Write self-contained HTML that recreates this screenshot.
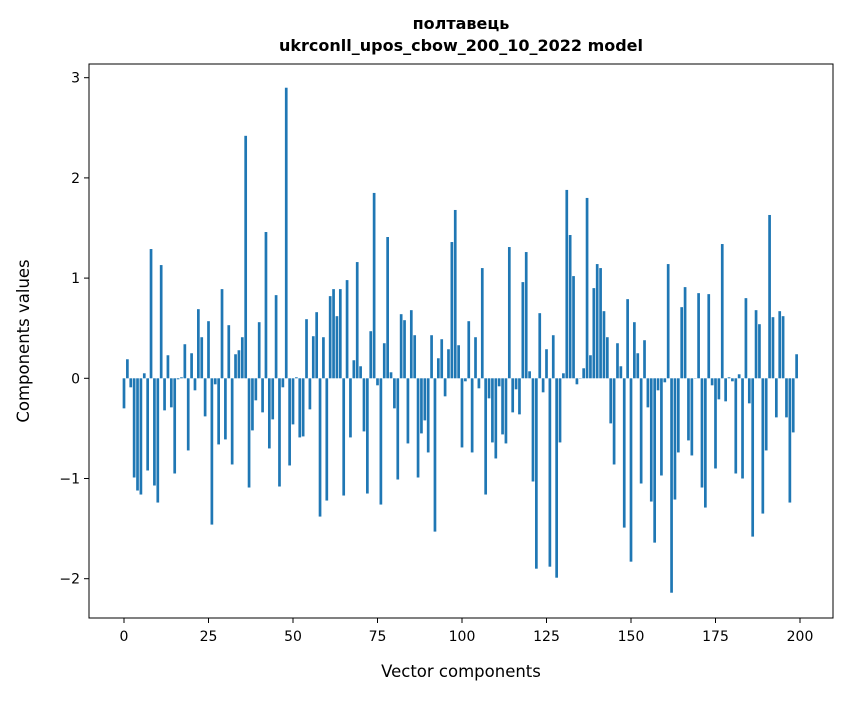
<!DOCTYPE html>
<html><head><meta charset="utf-8">
<style>
html,body{margin:0;padding:0;background:#fff;}
svg text{font-family:"DejaVu Sans","Liberation Sans",sans-serif;fill:#000;}
</style></head>
<body>
<svg id="chart" width="847" height="696" viewBox="0 0 847 696" xmlns="http://www.w3.org/2000/svg">
<rect x="0" y="0" width="847" height="696" fill="#fff"/>
<text x="461" y="29" text-anchor="middle" font-size="16" font-weight="bold">полтавець</text>
<text x="461" y="51" text-anchor="middle" font-size="16" font-weight="bold">ukrconll_upos_cbow_200_10_2022 model</text>
<g id="bars"></g>
<g id="xticks"></g>
<g id="yticks"></g>
<rect x="89" y="64" width="744" height="554" fill="none" stroke="#000" stroke-width="1"/>
<text x="461" y="677" text-anchor="middle" font-size="16.5">Vector components</text>
<text x="0" y="0" transform="translate(29,341) rotate(-90)" text-anchor="middle" font-size="16.5">Components values</text>
</svg>
<script>
const values = [
-0.30,0.19,-0.09,-0.99,-1.12,-1.16,0.05,-0.92,1.29,-1.07,
-1.24,1.13,-0.32,0.23,-0.29,-0.95,-0.01,0.01,0.34,-0.72,
0.25,-0.12,0.69,0.41,-0.38,0.57,-1.46,-0.06,-0.66,0.89,
-0.61,0.53,-0.86,0.24,0.28,0.41,2.42,-1.09,-0.52,-0.22,
0.56,-0.34,1.46,-0.70,-0.41,0.83,-1.08,-0.09,2.90,-0.87,
-0.46,0.01,-0.59,-0.58,0.59,-0.31,0.42,0.66,-1.38,0.41,
-1.22,0.82,0.89,0.62,0.89,-1.17,0.98,-0.59,0.18,1.16,
0.12,-0.53,-1.15,0.47,1.85,-0.07,-1.26,0.35,1.41,0.06,
-0.30,-1.01,0.64,0.58,-0.65,0.68,0.43,-0.99,-0.55,-0.42,
-0.74,0.43,-1.53,0.20,0.39,-0.18,0.29,1.36,1.68,0.33,
-0.69,-0.03,0.57,-0.74,0.41,-0.10,1.10,-1.16,-0.20,-0.64,
-0.80,-0.08,-0.56,-0.65,1.31,-0.34,-0.11,-0.36,0.96,1.26,
0.07,-1.03,-1.90,0.65,-0.14,0.29,-1.88,0.43,-1.99,-0.64,
0.05,1.88,1.43,1.02,-0.06,0.00,0.10,1.80,0.23,0.90,
1.14,1.10,0.67,0.41,-0.45,-0.86,0.35,0.12,-1.49,0.79,
-1.83,0.56,0.25,-1.05,0.38,-0.29,-1.23,-1.64,-0.12,-0.97,
-0.04,1.14,-2.14,-1.21,-0.74,0.71,0.91,-0.62,-0.77,0.00,
0.85,-1.09,-1.29,0.84,-0.07,-0.90,-0.21,1.34,-0.23,0.01,
-0.03,-0.95,0.04,-1.00,0.80,-0.25,-1.58,0.68,0.54,-1.35,
-0.72,1.63,0.61,-0.39,0.67,0.62,-0.39,-1.24,-0.54,0.24
];
const xTicks = [0,25,50,75,100,125,150,175,200];
const yTicks = [-2,-1,0,1,2,3];
const yTickLabels = ["\u22122","\u22121","0","1","2","3"];

const NS = "http://www.w3.org/2000/svg";
function xScale(v){ return 124 + v*3.38; }
function yScale(v){ return 378.3 - v*100.2; }

const gb = document.getElementById('bars');
values.forEach(function(v,i){
  const r = document.createElementNS(NS,'rect');
  const y0 = yScale(0), y1 = yScale(v);
  r.setAttribute('x', xScale(i) - 1.35);
  r.setAttribute('width', 2.7);
  r.setAttribute('y', Math.min(y0,y1));
  r.setAttribute('height', Math.max(Math.abs(y1-y0),0.3));
  r.setAttribute('fill', '#1f77b4');
  
  
  gb.appendChild(r);
});

const gx = document.getElementById('xticks');
xTicks.forEach(function(t){
  const x = xScale(t);
  const l = document.createElementNS(NS,'line');
  l.setAttribute('x1',x);l.setAttribute('x2',x);l.setAttribute('y1',618);l.setAttribute('y2',623);
  l.setAttribute('stroke','#000');
  
  
  gx.appendChild(l);
  const tx = document.createElementNS(NS,'text');
  tx.setAttribute('x',x);tx.setAttribute('y',641);
  tx.setAttribute('text-anchor','middle');tx.setAttribute('font-size','14');
  tx.textContent = String(t);
  
  
  gx.appendChild(tx);
});

const gy = document.getElementById('yticks');
yTicks.forEach(function(t,k){
  const y = yScale(t);
  const l = document.createElementNS(NS,'line');
  l.setAttribute('x1',84);l.setAttribute('x2',89);l.setAttribute('y1',y);l.setAttribute('y2',y);
  l.setAttribute('stroke','#000');
  
  
  gy.appendChild(l);
  const tx = document.createElementNS(NS,'text');
  tx.setAttribute('x',80);tx.setAttribute('y',y+5);
  tx.setAttribute('text-anchor','end');tx.setAttribute('font-size','14');
  tx.textContent = yTickLabels[k];
  
  
  gy.appendChild(tx);
});
</script>
</body></html>
